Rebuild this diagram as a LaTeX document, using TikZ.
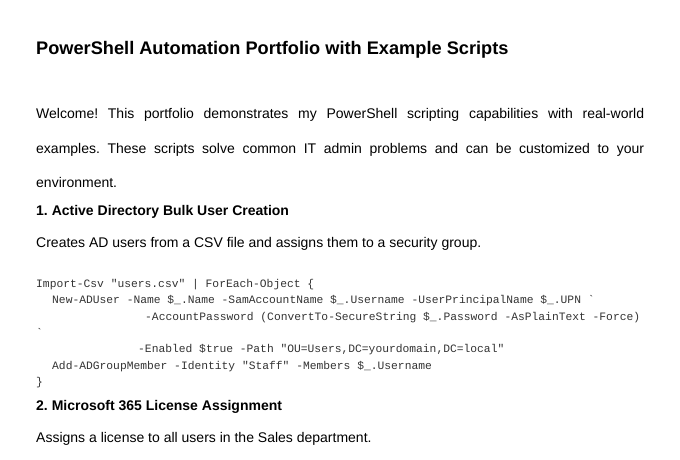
\documentclass[tikz,border=0pt]{standalone}
\usepackage{fontspec}
\setmainfont{Liberation Sans}
\setmonofont{Liberation Mono}
\begin{document}
\frenchspacing
\begin{tikzpicture}[x=1pt,y=-1pt,
  tx/.style={anchor=base west,inner sep=0pt,font=\fontsize{14}{16}\selectfont},
  hd/.style={anchor=base west,inner sep=0pt,font=\fontsize{14}{16}\selectfont\bfseries},
  cd/.style={anchor=base west,inner sep=0pt,text=black!80,font=\fontsize{11.3}{12}\ttfamily}]
\useasboundingbox[fill=white] (0,0) rectangle (680,459);
\node[anchor=base west,inner sep=0pt,font=\fontsize{18.2}{20}\selectfont\bfseries] (t) at (36,54) {PowerShell Automation Portfolio with Example Scripts};
\node[tx] (p1) at (36,118) {\makebox[608pt][s]{Welcome! This portfolio demonstrates my PowerShell scripting capabilities with real-world}};
\node[tx] (p2) at (36,153) {\makebox[608pt][s]{examples. These scripts solve common IT admin problems and can be customized to your}};
\node[tx] (p3) at (36,187) {environment.};
\node[hd] (h1) at (36,215) {1. Active Directory Bulk User Creation};
\node[tx] (p4) at (36,247) {Creates AD users from a CSV file and assigns them to a security group.};
\node[cd] (c1) at (36,287) {Import-Csv "users.csv" | ForEach-Object \{};
\node[cd] (c2) at (52,303) {New-ADUser -Name \$\_.Name -SamAccountName \$\_.Username -UserPrincipalName \$\_.UPN `};
\node[cd] (c3) at (145,320) {-AccountPassword (ConvertTo-SecureString \$\_.Password -AsPlainText -Force)};
\node[cd] (c4) at (36,336) {`};
\node[cd] (c5) at (138,352) {-Enabled \$true -Path "OU=Users,DC=yourdomain,DC=local"};
\node[cd] (c6) at (52,369) {Add-ADGroupMember -Identity "Staff" -Members \$\_.Username};
\node[cd] (c7) at (36,385) {\}};
\node[hd] (h2) at (36,410) {2. Microsoft 365 License Assignment};
\node[tx] (p5) at (36,442) {Assigns a license to all users in the Sales department.};
\end{tikzpicture}
\end{document}
